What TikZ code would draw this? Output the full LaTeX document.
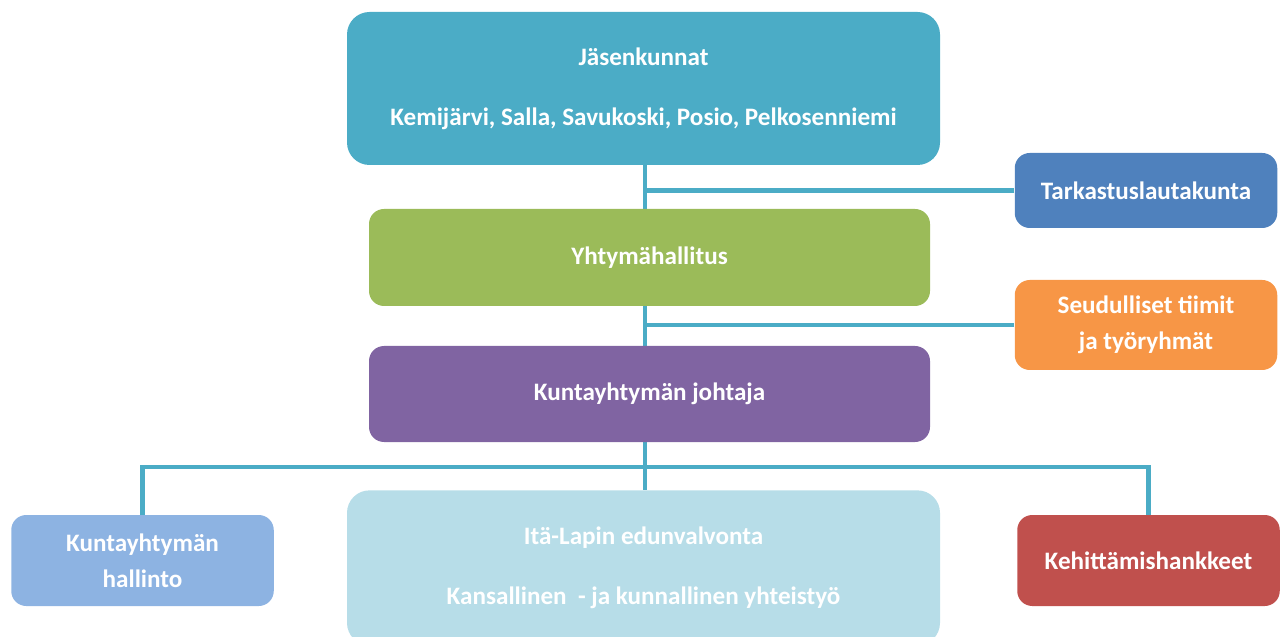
\documentclass[tikz,border=0pt]{standalone}
\usepackage{fontspec}
\setmainfont{Carlito}
\usetikzlibrary{backgrounds}
\definecolor{jasencol}{HTML}{4BACC6}
\definecolor{tarkcol}{HTML}{4F81BD}
\definecolor{hallcol}{HTML}{9BBB59}
\definecolor{seudcol}{HTML}{F79646}
\definecolor{johtcol}{HTML}{8064A2}
\definecolor{hallintocol}{HTML}{8DB3E2}
\definecolor{itacol}{HTML}{B7DDE8}
\definecolor{kehcol}{HTML}{C0504D}
\begin{document}
\begin{tikzpicture}
	[unit/.style={rectangle, rounded corners=0.45cm, text=white, align=center, inner sep=0pt,
	              font=\fontsize{14.3}{20.4}\selectfont\bfseries},
	 smallunit/.style={unit, rounded corners=0.3cm, minimum width=5.25cm},
	 wideunit/.style={unit, minimum width=11.86cm},
	 midunit/.style={unit, rounded corners=0.3cm, minimum width=11.22cm},
	 link/.style={draw=jasencol, line width=2.8pt}]
	\clip (0,0) rectangle (25.64,-12.74);
	\node[wideunit, fill=jasencol, minimum height=3.06cm] (jasen) at (12.87,-1.77)
		{J\"asenkunnat\\[13.6pt] Kemij\"arvi, Salla, Savukoski, Posio, Pelkosenniemi};
	\node[smallunit, fill=tarkcol, minimum height=1.5cm] (tark) at (22.92,-3.81) {Tarkastuslautakunta};
	\node[midunit, fill=hallcol, minimum height=1.94cm] (hallitus) at (12.99,-5.15) {Yhtym\"ahallitus};
	\node[smallunit, fill=seudcol, minimum height=1.8cm] (seud) at (22.92,-6.5)
		{Seudulliset tiimit\\ ja ty\"oryhm\"at};
	\node[midunit, fill=johtcol, minimum height=1.92cm] (johtaja) at (12.99,-7.88) {Kuntayhtym\"an johtaja};
	\node[smallunit, fill=hallintocol, minimum height=1.82cm] (hallinto) at (2.85,-11.21)
		{Kuntayhtym\"an\\ hallinto};
	\node[wideunit, fill=itacol, minimum height=3.1cm, anchor=north] (ita) at (12.87,-9.8)
		{It\"a-Lapin edunvalvonta\\[13.6pt] Kansallinen \ - ja kunnallinen yhteisty\"o};
	\node[smallunit, fill=kehcol, minimum height=1.82cm] (kehitys) at (22.97,-11.21) {Kehitt\"amishankkeet};
	\coordinate (spine) at (12.9,0);
	\coordinate (bus) at (0,-9.34);
	\begin{scope}[on background layer]
		\draw[link] (jasen.south -| spine) -- (ita.north -| spine);
		\draw[link] (tark.west) -- (tark.west -| spine);
		\draw[link] (seud.west) -- (seud.west -| spine);
		\draw[link] (hallinto.north) |- (bus -| kehitys.north) -- (kehitys.north);
	\end{scope}
\end{tikzpicture}
\end{document}
